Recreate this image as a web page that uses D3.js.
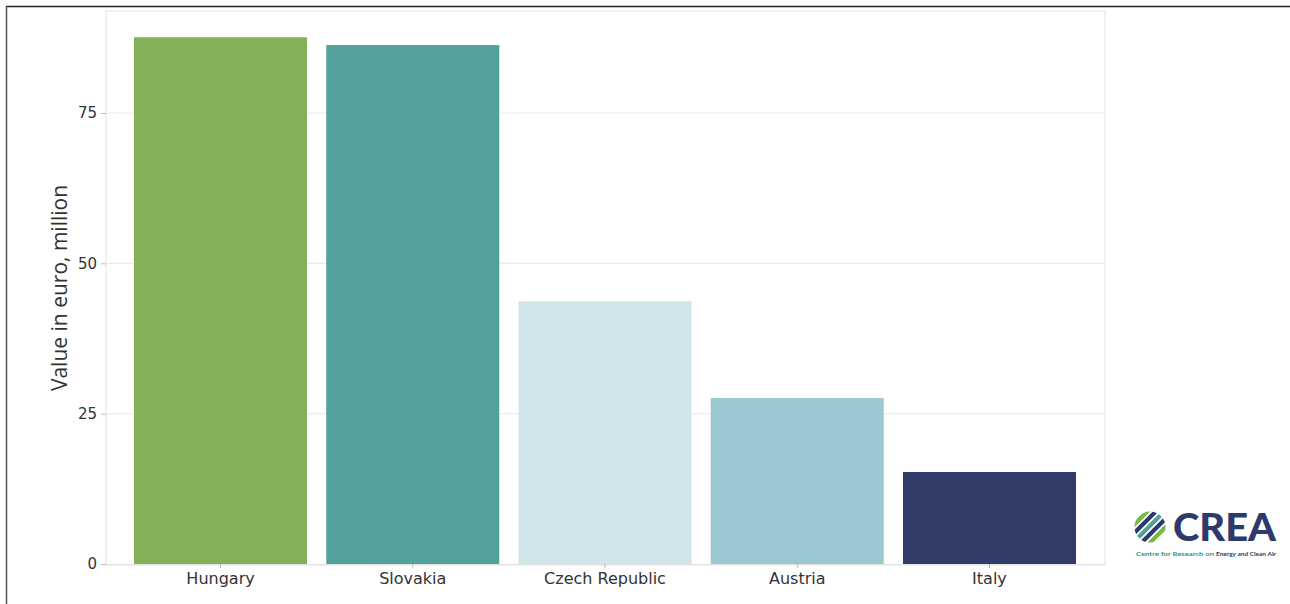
<!DOCTYPE html>
<html>
<head>
<meta charset="utf-8">
<script src="https://cdn.jsdelivr.net/npm/d3@7"></script>
<style>
  html, body { margin: 0; padding: 0; background: #fff; }
  svg { display: block; font-family: "DejaVu Sans", sans-serif; }
</style>
</head>
<body>
<svg id="chart" width="1290" height="604"></svg>
<script>
// Export value by destination country, million euro
const countries = ["Hungary", "Slovakia", "Czech Republic", "Austria", "Italy"];
const values = [87.6, 86.3, 43.7, 27.6, 15.3];
const barColors = ["#84b05a", "#52a19b", "#d1e6ea", "#9bc8d0", "#323c68"];
const yTicks = [0, 25, 50, 75];
const yLabel = "Value in euro, million";

const svg = d3.select("#chart");

// outer frame (top and left rules)
svg.append("line").attr("x1", 6).attr("x2", 1290).attr("y1", 6.5).attr("y2", 6.5)
  .attr("stroke", "#222").attr("stroke-width", 1.5);
svg.append("line").attr("x1", 6.5).attr("x2", 6.5).attr("y1", 6).attr("y2", 604)
  .attr("stroke", "#555").attr("stroke-width", 1.5);

const panel = { left: 106, right: 1105, top: 11, bottom: 565 };

const x = d3.scaleBand()
  .domain(countries)
  .range([124.4, 1085.6])
  .paddingInner(0.1)
  .paddingOuter(0.05);

const y = d3.scaleLinear()
  .domain([0, 75])
  .range([564, 113]);

// panel background + border
svg.append("rect")
  .attr("x", panel.left).attr("y", panel.top)
  .attr("width", panel.right - panel.left).attr("height", panel.bottom - panel.top)
  .attr("fill", "#fff").attr("stroke", "#ececec").attr("stroke-width", 1.5);

// horizontal gridlines
svg.append("g").selectAll("line")
  .data(yTicks.filter(d => d > 0))
  .join("line")
  .attr("x1", panel.left).attr("x2", panel.right)
  .attr("y1", d => y(d)).attr("y2", d => y(d))
  .attr("stroke", "#ececec").attr("stroke-width", 1.2);

// bars
svg.append("g").selectAll("rect")
  .data(countries)
  .join("rect")
  .attr("x", d => x(d))
  .attr("width", x.bandwidth())
  .attr("y", (d, i) => y(values[i]))
  .attr("height", (d, i) => y(0) - y(values[i]))
  .attr("fill", (d, i) => barColors[i]);

// y axis
const yAxis = svg.append("g")
  .attr("transform", `translate(${panel.left},0)`)
  .call(d3.axisLeft(y).tickValues(yTicks).tickSize(5).tickPadding(4).tickFormat(d3.format("d")));
yAxis.attr("font-family", "DejaVu Sans, sans-serif");
yAxis.select(".domain").remove();
yAxis.selectAll(".tick line").attr("stroke", "#bbb");
yAxis.selectAll(".tick text").attr("fill", "#333").style("font-size", "15px");

// x axis
const xAxis = svg.append("g")
  .attr("transform", `translate(0,${y(0)})`)
  .call(d3.axisBottom(x).tickSize(4).tickPadding(5));
xAxis.attr("font-family", "DejaVu Sans, sans-serif");
xAxis.select(".domain").attr("stroke", "#e4e4e4").attr("d", `M${panel.left},0.5H${panel.right}`);
xAxis.selectAll(".tick line").attr("stroke", "#bbb");
xAxis.selectAll(".tick text").attr("fill", "#333").style("font-size", "16px");

// y axis title
svg.append("text")
  .attr("transform", "translate(67,288) rotate(-90)")
  .attr("text-anchor", "middle")
  .attr("fill", "#333")
  .style("font-family", "'Open Sans', sans-serif")
  .style("font-size", "21px")
  .text(yLabel);

// CREA logo
const logo = svg.append("g").attr("transform", "translate(1150,527)");
const defs = svg.append("defs");
defs.append("clipPath").attr("id", "logoClip")
  .append("circle").attr("cx", 0).attr("cy", 0).attr("r", 15.5);
const stripes = logo.append("g").attr("clip-path", "url(#logoClip)");
const stripeCols = ["#2d3a6b", "#7ab648", "#2d3a6b", "#52a19b", "#2d3a6b", "#7ab648", "#9bc8d0"];
stripeCols.forEach((c, i) => {
  stripes.append("rect")
    .attr("x", -25).attr("y", -21 + i * 6)
    .attr("width", 50).attr("height", 4.2)
    .attr("fill", c)
    .attr("transform", "rotate(-45)");
});
svg.append("text")
  .attr("x", 1173).attr("y", 541)
  .attr("fill", "#2d3a6b")
  .style("font-size", "38px").style("font-weight", "900")
  .style("font-family", "Lato, 'Open Sans', sans-serif")
  .attr("textLength", 103).attr("lengthAdjust", "spacingAndGlyphs")
  .text("CREA");
svg.append("text")
  .attr("x", 1136).attr("y", 556)
  .attr("fill", "#3a8f8a")
  .style("font-size", "5.5px").style("font-weight", "bold")
  .style("font-family", "Lato, sans-serif")
  .attr("textLength", 78).attr("lengthAdjust", "spacingAndGlyphs")
  .text("Centre for Research on");
svg.append("text")
  .attr("x", 1216).attr("y", 556)
  .attr("fill", "#2d3a6b")
  .style("font-size", "5.5px").style("font-weight", "bold")
  .style("font-family", "Lato, sans-serif")
  .attr("textLength", 60).attr("lengthAdjust", "spacingAndGlyphs")
  .text("Energy and Clean Air");
</script>
</body>
</html>
